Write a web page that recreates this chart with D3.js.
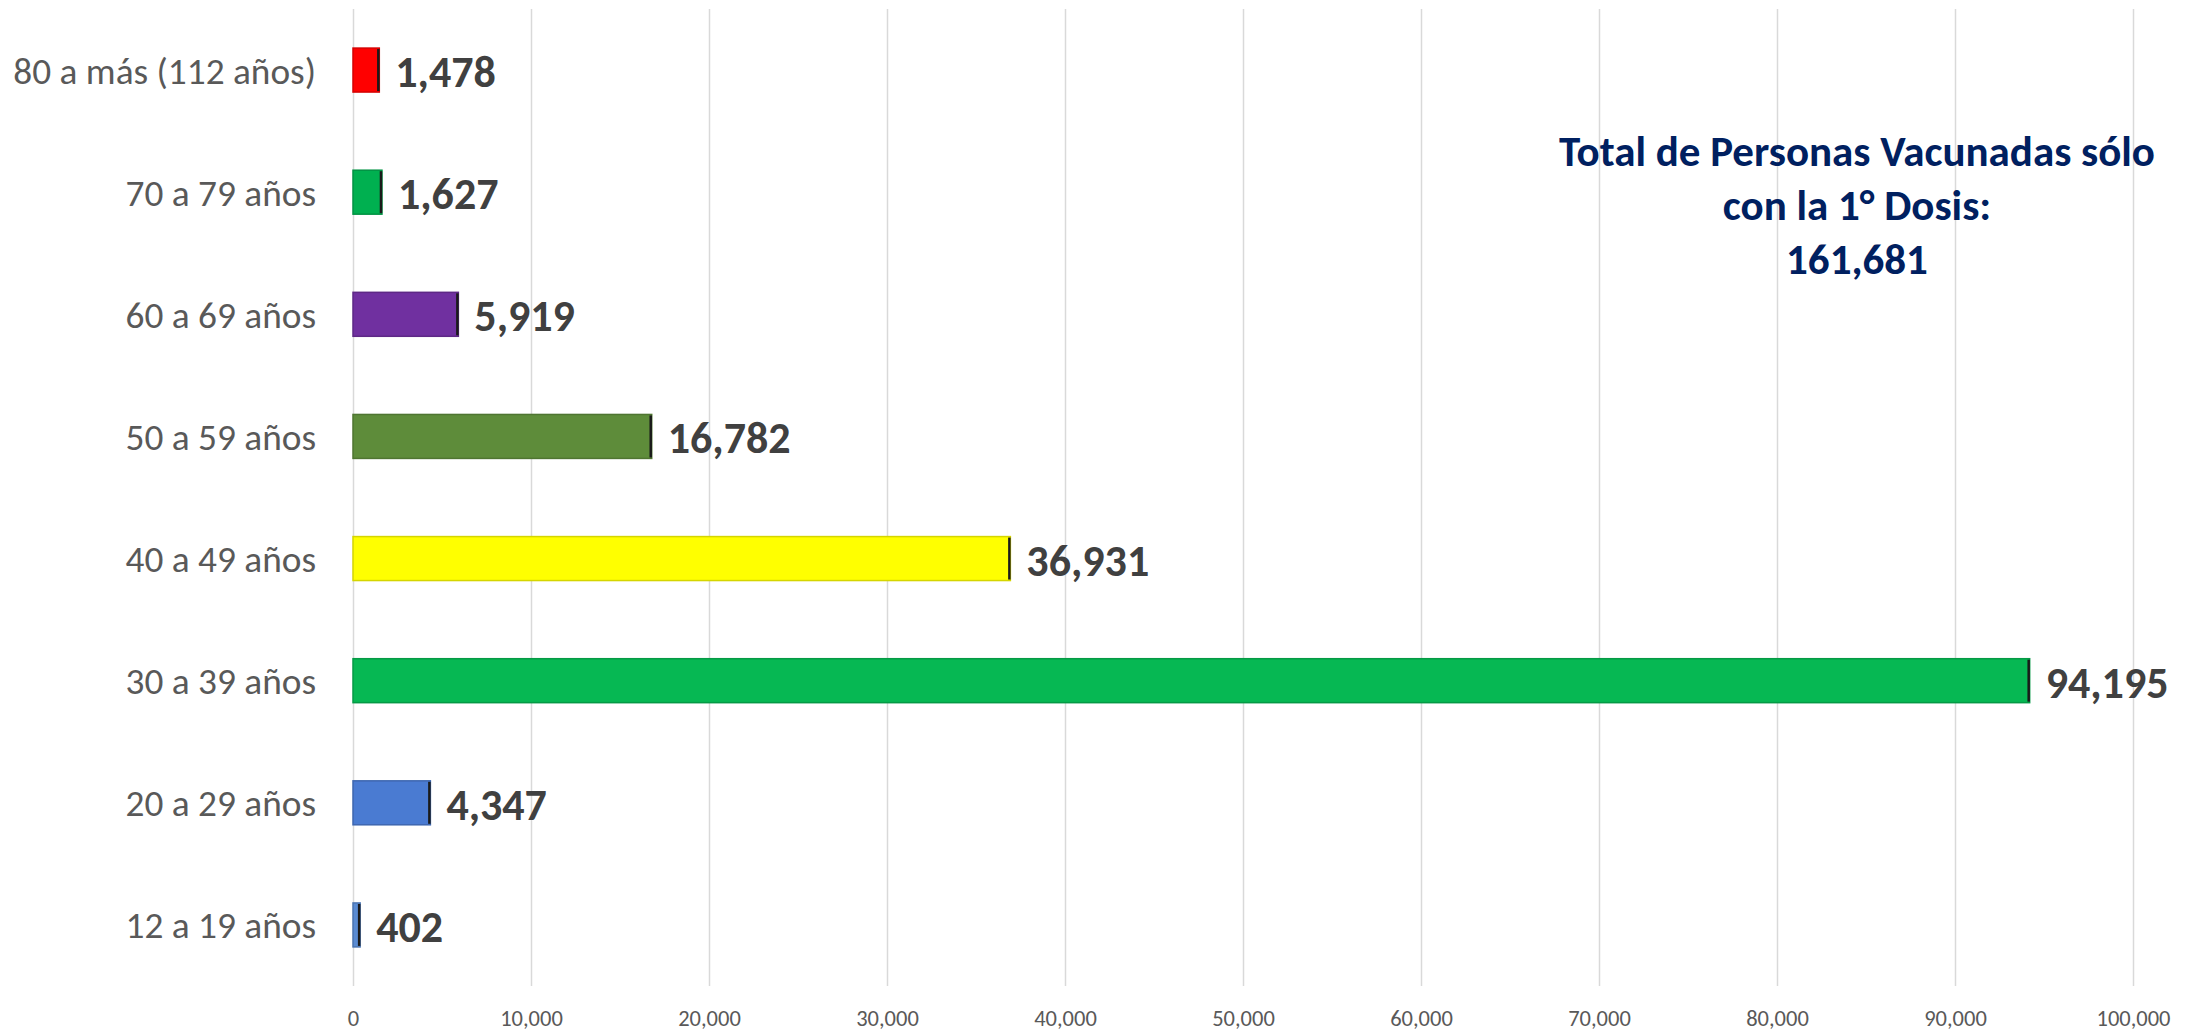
<!DOCTYPE html>
<html>
<head>
<meta charset="utf-8">
<script src="https://cdn.jsdelivr.net/npm/d3@7"></script>
<style>
  html, body { margin: 0; padding: 0; background: #fff; }
  svg { display: block; }
  text { font-family: Carlito, Calibri, Lato, "Open Sans", sans-serif; }
</style>
</head>
<body>
<svg id="chart" width="2196" height="1031"></svg>
<script>
const categories = ["80 a más (112 años)", "70 a 79 años", "60 a 69 años", "50 a 59 años", "40 a 49 años", "30 a 39 años", "20 a 29 años", "12 a 19 años"];
const values = [1478, 1627, 5919, 16782, 36931, 94195, 4347, 402];
const barColors = ["#FF0000", "#00B050", "#7030A0", "#5E8C3A", "#FFFF00", "#06B853", "#4A7BD2", "#5A8BD2"];
const xTicks = [0, 10000, 20000, 30000, 40000, 50000, 60000, 70000, 80000, 90000, 100000];
const titleLines = ["Total de Personas Vacunadas sólo", "con la 1° Dosis:", "161,681"];

const svg = d3.select("#chart");
const plotLeft = 353, plotRight = 2133, plotTop = 9, plotBottom = 986;

const x = d3.scaleLinear().domain([0, 100000]).range([plotLeft, plotRight]);
const y = d3.scaleBand().domain(categories).range([plotTop, plotBottom]).paddingInner(0.64).paddingOuter(0.32);
const fmt = d3.format(",");

// gridlines
svg.append("g").selectAll("line").data(xTicks).join("line")
  .attr("x1", d => Math.round(x(d)) + 0.5).attr("x2", d => Math.round(x(d)) + 0.5)
  .attr("y1", plotTop).attr("y2", plotBottom)
  .attr("stroke", "#D9D9D9").attr("stroke-width", 1.5);

// x axis tick labels
const xAxis = d3.axisBottom(x).tickValues(xTicks).tickFormat(fmt).tickSize(0).tickPadding(0);
const gx = svg.append("g").attr("transform", `translate(0, ${plotBottom})`).call(xAxis);
gx.select(".domain").remove();
gx.selectAll("text")
  .attr("y", 39.5).attr("dy", null)
  .attr("fill", "#595959")
  .style("font-size", "22.5px");

// category labels
const yAxis = d3.axisLeft(y).tickSize(0).tickPadding(0);
const gy = svg.append("g").attr("transform", `translate(316, 0)`).call(yAxis);
gy.select(".domain").remove();
gy.selectAll("text")
  .attr("x", 0).attr("dy", "13.5")
  .attr("fill", "#595959")
  .style("font-size", "37.3px");

const data = categories.map((c, i) => ({ cat: c, val: values[i], color: barColors[i] }));

// bars
const bars = svg.append("g").selectAll("g").data(data).join("g");
bars.append("rect")
  .attr("x", x(0))
  .attr("y", d => y(d.cat))
  .attr("width", d => x(d.val) - x(0))
  .attr("height", y.bandwidth())
  .attr("fill", d => d.color)
  .attr("stroke", d => d3.color(d.color).darker(0.5))
  .attr("stroke-width", 1.5);
bars.append("line")
  .attr("x1", d => x(d.val) - 1).attr("x2", d => x(d.val) - 1)
  .attr("y1", d => y(d.cat) + 1).attr("y2", d => y(d.cat) + y.bandwidth() - 1)
  .attr("stroke", "#1a1a1a").attr("stroke-width", 2.5);

// value labels
bars.append("text")
  .attr("x", d => x(d.val) + 16)
  .attr("y", d => y(d.cat) + y.bandwidth() / 2 + 17)
  .attr("fill", "#404040")
  .attr("font-weight", "bold")
  .style("font-size", "44px")
  .text(d => fmt(d.val));

// annotation
svg.append("text")
  .attr("text-anchor", "middle")
  .attr("fill", "#002060")
  .attr("font-weight", "bold")
  .style("font-size", "43px")
  .selectAll("tspan").data(titleLines).join("tspan")
  .attr("x", 1857)
  .attr("y", (d, i) => 166 + i * 54)
  .text(d => d);
</script>
</body>
</html>
